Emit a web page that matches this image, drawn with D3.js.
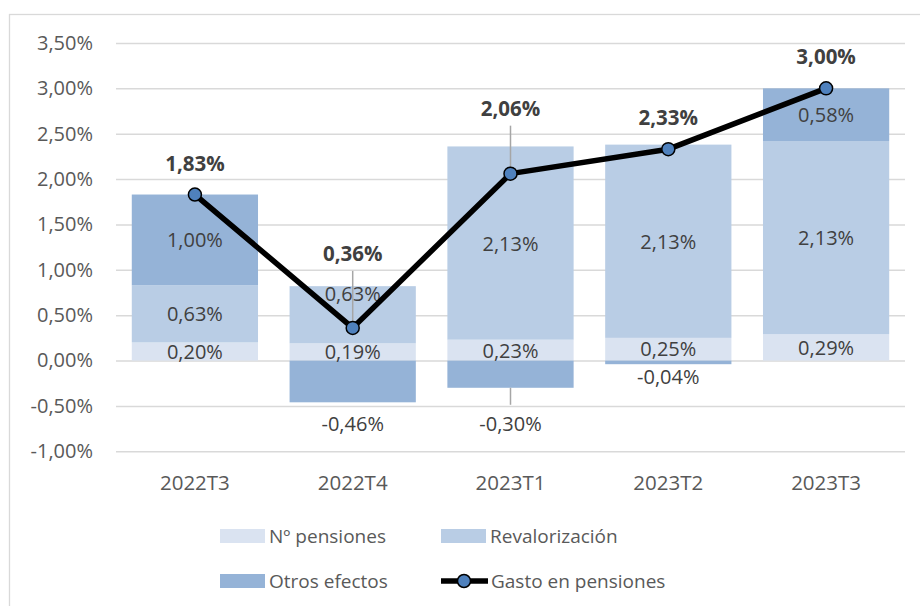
<!DOCTYPE html>
<html>
<head>
<meta charset="utf-8">
<script src="https://cdn.jsdelivr.net/npm/d3@7"></script>
<style>
  html, body { margin: 0; padding: 0; background: #fff; }
  svg { display: block; font-family: "Open Sans", "Noto Sans", sans-serif; }
</style>
</head>
<body>
<svg id="chart" width="920" height="606"></svg>
<script>
/* ── Gasto en pensiones · descomposición trimestral ─────────────── */

const CATEGORIES   = ["2022T3", "2022T4", "2023T1", "2023T2", "2023T3"];
const N_PENSIONES  = [0.20, 0.19, 0.23, 0.25, 0.29];
const REVALORIZ    = [0.63, 0.63, 2.13, 2.13, 2.13];
const OTROS        = [1.00, -0.46, -0.30, -0.04, 0.58];
const GASTO        = [1.83, 0.36, 2.06, 2.33, 3.00];
const Y_TICKS      = [-1, -0.5, 0, 0.5, 1, 1.5, 2, 2.5, 3, 3.5];

const SERIES = [
  { key: "npens", label: "Nº pensiones",   values: N_PENSIONES, color: "#dae3f1" },
  { key: "reval", label: "Revalorización", values: REVALORIZ,   color: "#b9cde5" },
  { key: "otros", label: "Otros efectos",  values: OTROS,       color: "#95b3d7" },
];

// hand-moved labels (px offsets from Excel's default spot) + leader lines
const NUDGE = {
  "npens-3": { dy: -1 },
  "reval-1": { dy: -21 },
  "otros-1": { below: 21 },
  "otros-2": { below: 36, leader: true },
  "otros-3": { below: 12 },
  "line-1":  { dy: -43, leader: true },
  "line-2":  { dy: -34, leader: true },
};

const FS = 20;
const fmt = v => d3.format(".2f")(v).replace(".", ",").replace("−", "-") + "%";

const svg = d3.select("#chart");
const W = 920, H = 606;
const M = { left: 116, right: 15, top: 43, bottom: 155 };

// frame (right/bottom edges fall outside the picture)
svg.append("rect")
  .attr("x", 9.5).attr("y", 14.5)
  .attr("width", 1000).attr("height", 1000)
  .attr("fill", "#fff").attr("stroke", "#d9d9d9").attr("stroke-width", 1.3);

const x = d3.scaleBand()
  .domain(CATEGORIES)
  .range([M.left, W - M.right])
  .paddingInner(0.2)
  .paddingOuter(0.1);

const y = d3.scaleLinear()
  .domain([-1, 3.5])
  .range([H - M.bottom + 0.3, M.top]);

// ── Grid + y axis ─────────────────────────────────────────────────
const yAxis = svg.append("g")
  .attr("transform", `translate(${M.left},0)`)
  .call(d3.axisLeft(y).tickValues(Y_TICKS).tickSize(-(W - M.right - M.left)).tickFormat(fmt).tickPadding(23));
yAxis.select(".domain").remove();
yAxis.selectAll(".tick line").attr("stroke", "#d9d9d9").attr("stroke-width", 1.5);
yAxis.selectAll(".tick text")
  .attr("fill", "#595959").attr("font-size", FS).attr("font-family", "\"Open Sans\", sans-serif");

// ── Stacked bars ──────────────────────────────────────────────────
const rows = CATEGORIES.map((c, i) => {
  const r = { cat: c };
  SERIES.forEach(s => r[s.key] = s.values[i]);
  return r;
});
const stacked = d3.stack()
  .keys(SERIES.map(s => s.key))
  .offset(d3.stackOffsetDiverging)(rows);

const barG = svg.append("g");
stacked.forEach((layer, li) => {
  barG.append("g").attr("fill", SERIES[li].color)
    .selectAll("rect")
    .data(layer)
    .join("rect")
      .attr("x", d => x(d.data.cat))
      .attr("width", x.bandwidth())
      .attr("y", d => y(Math.max(d[0], d[1])))
      .attr("height", d => Math.abs(y(d[0]) - y(d[1])));
});

// segment labels
const labelG = svg.append("g")
  .attr("font-size", FS).attr("fill", "#404040")
  .attr("text-anchor", "middle").attr("dominant-baseline", "central");

stacked.forEach((layer, li) => {
  const key = SERIES[li].key;
  layer.forEach((d, i) => {
    const n = NUDGE[`${key}-${i}`] || {};
    const cx = x(d.data.cat) + x.bandwidth() / 2;
    const lo = Math.min(d[0], d[1]);
    let cy = (y(d[0]) + y(d[1])) / 2 + (n.dy || 0);
    if (n.below != null) cy = y(lo) + n.below;
    if (n.leader) {
      svg.append("line")
        .attr("x1", cx).attr("x2", cx)
        .attr("y1", y(lo)).attr("y2", cy - 19)
        .attr("stroke", "#a6a6a6").attr("stroke-width", 1.5);
    }
    labelG.append("text").attr("x", cx).attr("y", cy).text(fmt(SERIES[li].values[i]));
  });
});

// ── Gasto en pensiones line ───────────────────────────────────────
const px = (d, i) => x(CATEGORIES[i]) + x.bandwidth() / 2;
const lineG = svg.append("g");

GASTO.forEach((v, i) => {
  const n = NUDGE[`line-${i}`];
  if (n && n.leader) {
    lineG.append("line")
      .attr("x1", px(v, i)).attr("x2", px(v, i))
      .attr("y1", y(v) - 32 + n.dy + 18).attr("y2", y(v))
      .attr("stroke", "#a6a6a6").attr("stroke-width", 1.5);
  }
});

lineG.append("path")
  .datum(GASTO)
  .attr("fill", "none").attr("stroke", "#000").attr("stroke-width", 5.5)
  .attr("stroke-linejoin", "round")
  .attr("d", d3.line().x(px).y(d => y(d)));

lineG.selectAll("circle")
  .data(GASTO)
  .join("circle")
    .attr("cx", px).attr("cy", d => y(d)).attr("r", 6.5)
    .attr("fill", "#4f81bd").attr("stroke", "#000").attr("stroke-width", 1.5);

lineG.selectAll("text.val")
  .data(GASTO)
  .join("text")
    .attr("class", "val")
    .attr("x", px)
    .attr("y", (d, i) => y(d) - 32 + ((NUDGE[`line-${i}`] || {}).dy || 0))
    .attr("text-anchor", "middle").attr("dominant-baseline", "central")
    .attr("font-size", FS + 0.5).attr("font-weight", 700).attr("fill", "#404040")
    .text(fmt);

// ── X axis labels ─────────────────────────────────────────────────
svg.append("g")
  .selectAll("text")
  .data(CATEGORIES)
  .join("text")
    .attr("x", d => x(d) + x.bandwidth() / 2)
    .attr("y", 482)
    .attr("text-anchor", "middle").attr("dominant-baseline", "central")
    .attr("font-size", FS + 0.5).attr("fill", "#595959")
    .text(d => d);

// ── Legend ────────────────────────────────────────────────────────
const LEGEND_POS = [[220, 536], [441, 536], [220, 581], [441, 581]];
const legend = svg.append("g").attr("font-size", 19).attr("fill", "#595959");

SERIES.forEach((s, i) => {
  const [lx, ly] = LEGEND_POS[i];
  legend.append("rect")
    .attr("x", lx).attr("y", ly - 7).attr("width", 45).attr("height", 14)
    .attr("fill", s.color);
  legend.append("text")
    .attr("x", lx + 49).attr("y", ly).attr("dominant-baseline", "central")
    .text(s.label);
});

{
  const [lx, ly] = LEGEND_POS[3];
  legend.append("line")
    .attr("x1", lx).attr("x2", lx + 47).attr("y1", ly).attr("y2", ly)
    .attr("stroke", "#000").attr("stroke-width", 5.5);
  legend.append("circle")
    .attr("cx", lx + 23).attr("cy", ly).attr("r", 6.5)
    .attr("fill", "#4f81bd").attr("stroke", "#000").attr("stroke-width", 1.5);
  legend.append("text")
    .attr("x", lx + 50).attr("y", ly).attr("dominant-baseline", "central")
    .text("Gasto en pensiones");
}
</script>
</body>
</html>
